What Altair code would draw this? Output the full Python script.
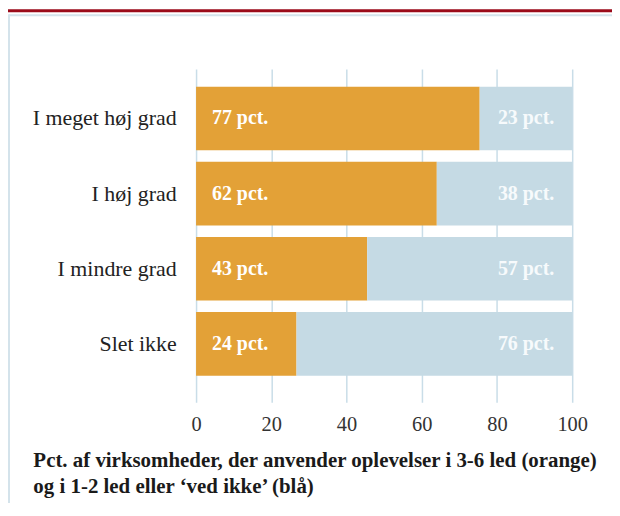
import altair as alt
import pandas as pd

categories = ["I meget høj grad", "I høj grad", "I mindre grad", "Slet ikke"]
orange_bar = [75.4, 64.0, 45.5, 26.7]   # bar lengths as drawn
orange_label = [77, 62, 43, 24]
blue_label = [23, 38, 57, 76]
axis_values = [0, 20, 40, 60, 80, 100]
title_lines = [
    "Pct. af virksomheder, der anvender oplevelser i 3-6 led (orange)",
    "og i 1-2 led eller \u2018ved ikke\u2019 (blå)",
]

ORANGE = "#E3A137"
BLUE = "#C5DAE4"
SERIF = "Liberation Serif"

rows = []
for c, ob, ol, bl in zip(categories, orange_bar, orange_label, blue_label):
    rows.append({"cat": c, "serie": "orange", "start": 0, "end": ob, "label": f"{ol} pct."})
    rows.append({"cat": c, "serie": "blå", "start": ob, "end": 100, "label": f"{bl} pct."})
df = pd.DataFrame(rows)

y_enc = alt.Y(
    "cat:N",
    sort=categories,
    scale=alt.Scale(paddingInner=0.152, paddingOuter=0.295, align=0.4),
    axis=alt.Axis(
        title=None, ticks=False, domain=False, labelFont=SERIF, labelFontSize=22,
        labelColor="#222222", labelPadding=20, labelLimit=300,
    ),
)

x_scale = alt.Scale(domain=[0, 100], nice=False)

bars = alt.Chart(df).mark_bar(cornerRadius=0).encode(
    x=alt.X(
        "start:Q",
        scale=x_scale,
        axis=alt.Axis(
            values=axis_values, grid=True, gridColor="#C9DDE8", gridWidth=1.5,
            ticks=False, domain=False, labelFont=SERIF, labelFontSize=20.5,
            labelColor="#333333", labelPadding=12, labelFlush=False,
            title=title_lines, titleFont=SERIF, titleFontSize=21,
            titleFontWeight="bold", titleColor="#1a1a1a", titleAlign="left",
            titleAnchor="start", titleX=-164, titleY=65, titleBaseline="alphabetic",
            titleLineHeight=26,
        ),
    ),
    x2="end:Q",
    y=y_enc,
    color=alt.Color(
        "serie:N",
        scale=alt.Scale(domain=["orange", "blå"], range=[ORANGE, BLUE]),
        legend=None,
    ),
)

text_left = alt.Chart(df[df.serie == "orange"]).mark_text(
    align="left", baseline="middle", dx=16, font=SERIF, fontSize=20,
    fontWeight="bold", color="#ffffff",
).encode(x=alt.X("start:Q", scale=x_scale), y=alt.Y("cat:N", sort=categories), text="label:N")

text_right = alt.Chart(df[df.serie == "blå"]).mark_text(
    align="right", baseline="middle", dx=-18, font=SERIF, fontSize=20,
    fontWeight="bold", color="#F7FAFC",
).encode(x=alt.X("end:Q", scale=x_scale), y=alt.Y("cat:N", sort=categories), text="label:N")

# decorative frame: red top rule and light-blue border lines
deco_src = alt.Chart(pd.DataFrame({"d": [0]}))
red_rule = deco_src.mark_rule(color="#9B0B1A", strokeWidth=3).encode(
    x=alt.value(-189), x2=alt.value(423), y=alt.value(-58.5)
)
top_border = deco_src.mark_rule(color="#D4E3EB", strokeWidth=2).encode(
    x=alt.value(-188), x2=alt.value(423), y=alt.value(-54)
)
left_border = deco_src.mark_rule(color="#D4E3EB", strokeWidth=2).encode(
    x=alt.value(-188), y=alt.value(-55), y2=alt.value(440)
)

chart = alt.layer(bars, text_left, text_right, red_rule, top_border, left_border).properties(
    width=378,
    height=335,
    autosize=alt.AutoSizeParams(type="none"),
    padding={"left": 189, "top": 60, "right": 40, "bottom": 100},
    background="#ffffff",
).configure_view(stroke=None)

chart.save("out.html", embed_options={"renderer": "svg", "actions": False})
